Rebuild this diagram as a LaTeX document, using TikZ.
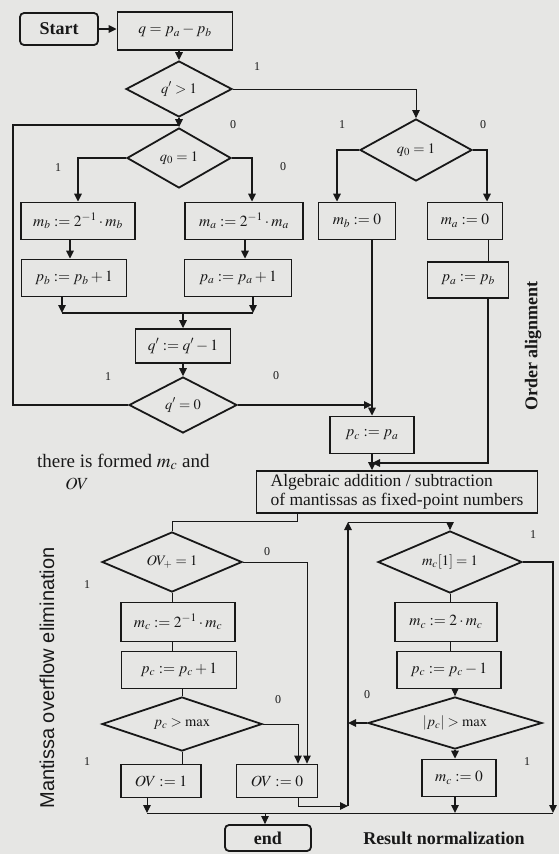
\documentclass[tikz,border=0pt]{standalone}
\usepackage{mathptmx}
\usepackage[no-math]{fontspec}
\setmainfont{Liberation Serif}
\newfontfamily\labelsans{Liberation Sans}
\usetikzlibrary{arrows.meta,shapes.geometric}
\definecolor{paper}{RGB}{230,230,228}
\definecolor{ink}{RGB}{24,24,24}
\begin{document}
\begin{tikzpicture}[x=1pt,y=-1pt,color=ink,
  box/.style={draw=ink, line width=1.8pt, rectangle, inner sep=0pt,
    font=\fontsize{15.5}{17}\selectfont},
  rbox/.style={box, rounded corners=4pt, font=\fontsize{18}{20}\selectfont\bfseries},
  dec/.style={draw=ink, line width=1.8pt, diamond, aspect=2.5, inner sep=0pt,
    font=\fontsize{14.5}{16}\selectfont},
  conn/.style={line width=1.6pt},
  thinline/.style={line width=1pt},
  arr/.style={-{Triangle[length=8pt,width=7.5pt]}},
  lbl/.style={font=\fontsize{12}{12}\selectfont, inner sep=0pt},
  caption/.style={font=\fontsize{18}{20}\selectfont\bfseries, inner sep=0pt},
]
\fill[paper] (0,0) rectangle (559,854);
\useasboundingbox (0,0) rectangle (559,854);

% ---------- order alignment ----------
\node[rbox, minimum width=78pt, minimum height=32pt] (start) at (59,29) {Start};
\node[box, minimum width=115pt, minimum height=38pt] (qbox) at (175,31) {$q = p_a - p_b$};
\node[dec, minimum width=106pt, minimum height=56pt] (d1) at (179,89) {$q' > 1$};
\node[dec, minimum width=104pt, minimum height=60pt] (d2) at (179,158) {$q_0 = 1$};
\node[box, minimum width=114pt, minimum height=37pt] (mb) at (78,221) {$m_b := 2^{-1}\cdot m_b$};
\node[box, minimum width=118pt, minimum height=37pt] (ma) at (244,221) {$m_a := 2^{-1}\cdot m_a$};
\node[box, minimum width=105pt, minimum height=37pt] (pb) at (74,278) {$p_b := p_b + 1$};
\node[box, minimum width=107pt, minimum height=37pt] (pa) at (238,278) {$p_a := p_a + 1$};
\node[box, minimum width=95pt, minimum height=34pt] (qm) at (183,346) {$q' := q' - 1$};
\node[dec, minimum width=108pt, minimum height=56pt] (d4) at (183,405) {$q' = 0$};
\node[dec, minimum width=112pt, minimum height=62pt] (d3) at (416,150) {$q_0 = 1$};
\node[box, minimum width=77pt, minimum height=37pt] (mb0) at (357,221) {$m_b := 0$};
\node[box, minimum width=75pt, minimum height=37pt] (ma0) at (465,221) {$m_a := 0$};
\node[box, minimum width=81pt, minimum height=36pt] (pab) at (468,280) {$p_a := p_b$};
\node[box, minimum width=84pt, minimum height=37pt] (pc) at (372,435) {$p_c := p_a$};
\node[box, minimum width=281pt, minimum height=42pt, align=left,
  font=\fontsize{17.5}{19}\selectfont] (alg) at (397,492)
  {Algebraic addition / subtraction\\of mantissas as fixed-point numbers};

\draw[conn,arr] (start.east) -- (start.east -| qbox.west);
\draw[conn,arr] (qbox.south -| d1.north) -- (d1.north);
\draw[thinline,arr] (d1.east) -| (d3.north);
\draw[conn,arr] (d1.south) -- (d2.north);
\coordinate (lp) at (13,125);
\draw[conn] (d4.west) -| (lp) -- (lp -| d2.north);
\draw[conn,arr] (d2.west) -| (mb.north);
\draw[conn,arr] (d2.east) -| ([xshift=8pt]ma.north);
\draw[conn,arr] ([xshift=-8pt]mb.south) -- ([xshift=-8pt]mb.south |- pb.north);
\draw[conn,arr] ([xshift=1pt]ma.south) -- ([xshift=1pt]ma.south |- pa.north);
\coordinate (jl) at (62,313);
\coordinate (jr) at (253,313);
\draw[conn,arr] (pb.south -| jl) -- (jl);
\draw[conn,arr] (pa.south -| jr) -- (jr);
\draw[conn] (jl) -- (jr);
\draw[conn,arr] (qm.north |- jl) -- (qm.north);
\draw[conn,arr] (qm.south) -- (d4.north);
\draw[conn,arr] (d4.east) -- (d4.east -| pc.north);
\draw[conn,arr] (d3.west) -| ([xshift=-20pt]mb0.north);
\draw[conn,arr] (d3.east) -| ([xshift=22pt]ma0.north);
\draw[conn,arr] (mb0.south -| pc.north) -- (pc.north);
\draw[thinline] ([xshift=20pt]pab.north |- ma0.south) -- ([xshift=20pt]pab.north);
\coordinate (jm) at (372,463);
\draw[conn,arr] ([xshift=20pt]pab.south) |- (jm);
\draw[conn,arr] (pc.south) -- (pc.south |- alg.north);

\node[lbl] (l1) at (257,67) {1};
\node[lbl] (l2) at (233,125) {0};
\node[lbl] (l3) at (58,168) {1};
\node[lbl] (l4) at (283,167) {0};
\node[lbl] (l5) at (108,377) {1};
\node[lbl] (l6) at (276,376) {0};
\node[lbl] (l7) at (342,125) {1};
\node[lbl] (l8) at (483,125) {0};

\node[caption, rotate=90] (ordl) at (533,346) {Order alignment};

% ---------- overflow check ----------
\node[font=\fontsize{19}{21}\selectfont, anchor=base west, inner sep=0pt] (formed) at (37,467)
  {there is formed $m_c$ and};
\node[font=\fontsize{17}{19}\selectfont, inner sep=0pt] (ovt) at (77,484) {$OV$};

\node[dec, minimum width=140pt, minimum height=60pt] (d5) at (172,562) {$OV_{+} = 1$};
\node[box, minimum width=114pt, minimum height=39pt] (mc1) at (178,622) {$m_c := 2^{-1}\cdot m_c$};
\node[box, minimum width=115pt, minimum height=37pt] (pc1) at (179,670) {$p_c := p_c + 1$};
\node[dec, minimum width=160pt, minimum height=54pt] (d6) at (182,724) {$p_c > \mathrm{max}$};
\node[box, minimum width=80pt, minimum height=33pt] (ov1) at (161,781) {$OV := 1$};
\node[box, minimum width=81pt, minimum height=33pt] (ov0) at (277,781) {$OV := 0$};
\node[rbox, minimum width=86pt, minimum height=26pt] (end) at (268,838) {end};

\coordinate (ja) at (297,521);
\draw[thinline] (alg.south -| ja) -- (ja) -| (d5.north);
\draw[thinline] (d5.south) -- (d5.south |- mc1.north);
\draw[thinline] (mc1.south -| d5.south) -- (pc1.north -| d5.south);
\draw[thinline] (pc1.south -| d6.north) -- (d6.north);
\draw[thinline] (d6.south) -- (d6.south |- ov1.north);
\draw[thinline,arr] (d5.east) -| ([xshift=30pt]ov0.north);
\draw[thinline,arr] (d6.east) -| ([xshift=21pt]ov0.north);

\coordinate (bl) at (147,813);
\coordinate (br) at (553,813);
\draw[thinline,arr] (ov1.south -| bl) -- (bl);
\draw[thinline] (bl) -- (br);
\draw[thinline,arr] ([xshift=-3pt]end.north |- bl) -- ([xshift=-3pt]end.north);

\node[lbl] (l9) at (267,552) {0};
\node[lbl] (l10) at (87,585) {1};
\node[lbl] (l11) at (278,700) {0};
\node[lbl] (l12) at (87,762) {1};

\node[font=\labelsans\fontsize{20}{22}\selectfont, rotate=90, inner sep=0pt] (mofl) at (47,678)
  {Mantissa overflow elimination};

% ---------- normalization ----------
\node[dec, minimum width=144pt, minimum height=62pt] (d7) at (450,562) {$m_c[1] = 1$};
\node[box, minimum width=102pt, minimum height=39pt] (mc2) at (446,622) {$m_c := 2\cdot m_c$};
\node[box, minimum width=104pt, minimum height=37pt] (pc2) at (449,670) {$p_c := p_c - 1$};
\node[dec, minimum width=174pt, minimum height=52pt] (d8) at (455,723) {$|p_c| > \mathrm{max}$};
\node[box, minimum width=74pt, minimum height=37pt] (mz) at (459,778) {$m_c := 0$};

\coordinate (lv) at (348,806);
\coordinate (lt) at (348,522);
\draw[thinline,arr] ([xshift=21pt]ov0.south) |- (lv);
\draw[conn,arr] (lv) -- (lt);
\draw[thinline,arr] (lt) -| (d7.north);
\draw[conn,arr] (d7.east) -| (br);
\draw[thinline] (d7.south) -- (d7.south |- mc2.north);
\draw[thinline] (mc2.south -| d7.south) -- (pc2.north -| d7.south);
\draw[thinline,arr] (pc2.south -| d8.north) -- (d8.north);
\draw[conn,arr] (d8.west) -- (d8.west -| lv);
\draw[conn,arr] (d8.south) -- (d8.south |- mz.north);
\draw[conn,arr] (mz.south -| d8.south) -- (d8.south |- br);

\node[lbl] (l13) at (533,535) {1};
\node[lbl] (l14) at (367,695) {0};
\node[lbl] (l15) at (527,762) {1};

\node[caption] (resl) at (444,838) {Result normalization};
\end{tikzpicture}
\end{document}
